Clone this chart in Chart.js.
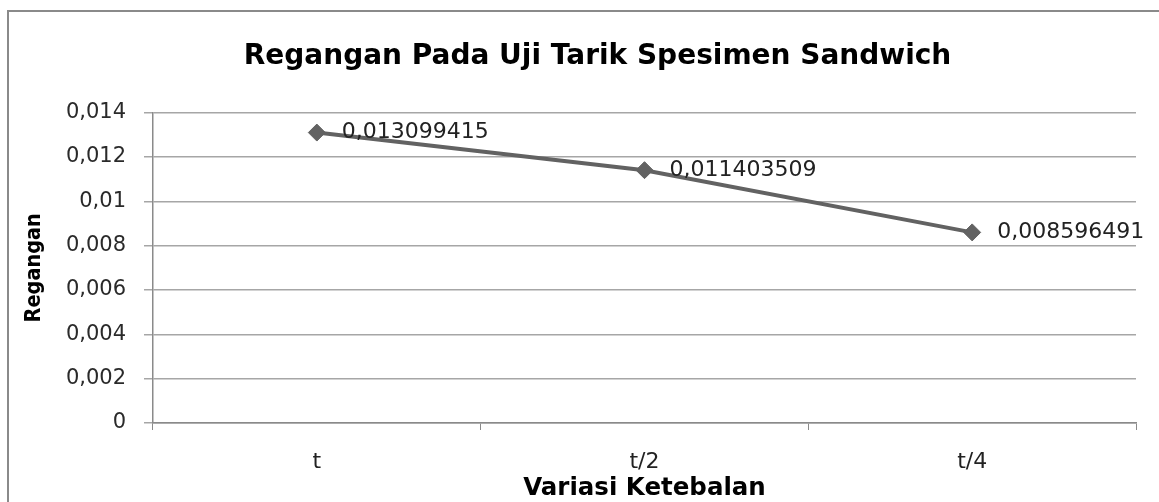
<!DOCTYPE html>
<html>
<head>
<meta charset="utf-8">
<script src="https://cdn.jsdelivr.net/npm/chart.js@4"></script>
<style>
    html, body { margin: 0; padding: 0; background: #fff; overflow: hidden; }
    #wrap { position: relative; width: 1159px; height: 502px; }
    #frame { position: absolute; left: 7px; top: 10px; width: 1170px; height: 520px; border: 2px solid #8a8a8a; }
    canvas { position: absolute; left: 0; top: 0; }
</style>
</head>
<body>
<div id="wrap">
    <div id="frame"></div>
    <canvas id="reganganChart" width="1159" height="502"></canvas>
</div>
<script>
// Regangan per variasi ketebalan
const categories = ['t', 't/2', 't/4'];
const reganganValues = [0.013099415, 0.011403509, 0.008596491];
const yTickValues = [0, 0.002, 0.004, 0.006, 0.008, 0.01, 0.012, 0.014];

function commaNum(v) {
    return String(v).replace('.', ',');
}

// label angka di kanan tiap titik
const pointLabels = {
    id: 'pointLabels',
    afterDatasetsDraw(chart) {
        const ctx = chart.ctx;
        const meta = chart.getDatasetMeta(0);
        ctx.save();
        ctx.font = '22px "DejaVu Sans"';
        ctx.fillStyle = '#222';
        ctx.textAlign = 'left';
        ctx.textBaseline = 'middle';
        meta.data.forEach(function (pt, i) {
            ctx.fillText(commaNum(reganganValues[i]), pt.x + 25, pt.y);
        });
        ctx.restore();
    }
};

new Chart(document.getElementById('reganganChart'), {
    type: 'line',
    data: {
        labels: categories,
        datasets: [{
            label: 'Regangan',
            data: reganganValues,
            borderColor: '#626262',
            backgroundColor: '#626262',
            borderWidth: 4,
            tension: 0,
            fill: false,
            pointStyle: 'rectRot',
            pointRadius: 8.5,
            pointBackgroundColor: '#626262',
            pointBorderColor: '#626262',
            pointBorderWidth: 1
        }]
    },
    options: {
        responsive: false,
        animation: false,
        // kiri 36 supaya judul tergeser ke kanan seperti aslinya
        layout: { padding: { left: 36, right: 0, top: 0, bottom: 0 } },
        plugins: {
            legend: { display: false },
            tooltip: { enabled: false },
            title: {
                display: true,
                text: 'Regangan Pada Uji Tarik Spesimen Sandwich',
                color: '#000',
                font: { family: '"DejaVu Sans"', size: 28, weight: 'bold', lineHeight: 1.2 },
                padding: { top: 40, bottom: 39 }
            }
        },
        scales: {
            x: {
                offset: true,
                grid: {
                    offset: true,
                    drawOnChartArea: false,
                    drawTicks: true,
                    tickLength: 7,
                    color: '#8a8a8a'
                },
                border: { color: '#8a8a8a', width: 1.5 },
                ticks: {
                    color: '#222',
                    padding: 19,
                    maxRotation: 0,
                    font: { family: '"DejaVu Sans"', size: 22 }
                },
                title: {
                    display: true,
                    text: 'Variasi Ketebalan',
                    color: '#000',
                    font: { family: '"DejaVu Sans"', size: 24.5, weight: 'bold', lineHeight: 1.2 },
                    padding: { top: 0, bottom: -1 }
                },
                afterFit: function (scale) { scale.height = 79; }
            },
            y: {
                min: 0,
                max: 0.014,
                afterBuildTicks: function (scale) {
                    scale.ticks = yTickValues.map(function (v) { return { value: v }; });
                },
                grid: {
                    color: '#a6a6a6',
                    lineWidth: 1.5,
                    tickLength: 9
                },
                border: { color: '#8a8a8a', width: 1.5 },
                ticks: {
                    color: '#2a2a2a',
                    padding: 18,
                    font: { family: '"DejaVu Sans"', size: 21 },
                    callback: function (value) {
                        return commaNum(Number(value.toFixed(3)));
                    }
                },
                title: {
                    display: true,
                    text: 'Regangan',
                    color: '#000',
                    font: { family: '"Liberation Sans Narrow", "DejaVu Sans Condensed", sans-serif', size: 21.5, weight: 'bold', lineHeight: 1.2 },
                    padding: { top: -14, bottom: 0 }
                },
                afterFit: function (scale) { scale.width = 117; }
            },
            yRight: {
                position: 'right',
                display: true,
                grid: { display: false, drawTicks: false },
                border: { display: false },
                ticks: { display: false },
                afterFit: function (scale) { scale.width = 23; }
            }
        }
    },
    plugins: [pointLabels]
});
</script>
</body>
</html>
